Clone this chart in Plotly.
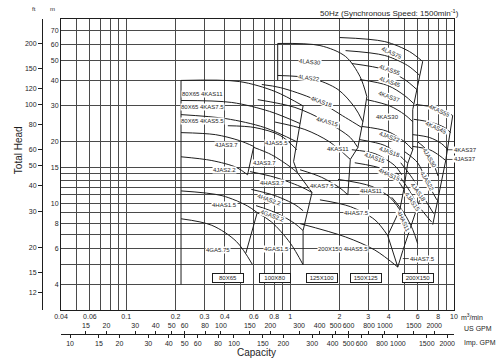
import numpy as np
import plotly.graph_objects as go

# ---------------- axis values ----------------
x_grid = [0.04, 0.05, 0.06, 0.07, 0.08, 0.09, 0.1, 0.2, 0.3, 0.4, 0.5, 0.6, 0.7, 0.8, 0.9,
          1, 2, 3, 4, 5, 6, 7, 8, 9, 10]
x_labeled = [0.04, 0.06, 0.1, 0.2, 0.3, 0.4, 0.6, 0.8, 1, 2, 3, 4, 6, 8, 10]
y_grid = [4, 5, 6, 7, 8, 9, 10, 11, 12, 13, 14, 15, 20, 30, 40, 50, 60, 70]
y_labeled = [4, 6, 8, 10, 15, 20, 30, 40, 50, 60, 70]
ft_ticks = [12, 15, 20, 30, 40, 50, 60, 80, 100, 120, 150, 200]
us_gpm_ticks = [15, 20, 30, 40, 50, 60, 80, 100, 150, 200, 300, 400, 500, 600, 800, 1000, 1500, 2000]
imp_gpm_ticks = [10, 15, 20, 30, 40, 50, 60, 80, 100, 150, 200, 300, 400, 500, 600, 800, 1000, 1500, 2000]
q_range = [0.04, 10]      # m3/min
h_range = [3, 80]         # m

# ---------------- pump curves (capacity m3/min, head m) ----------------
c80_kas11 = [(0.216, 40), (0.49, 39.5), (0.81, 35.3), (1.2, 30)]
c80_kas75 = [(0.216, 31.9), (0.44, 31.2), (0.75, 28.2), (1.15, 24.6)]
c80_kas55 = [(0.216, 27.2), (0.405, 26.0), (0.70, 23.5), (1.10, 20)]
c80_jas37 = [(0.216, 22.2), (0.35, 21.7), (0.49, 20.3), (0.60, 19.0)]
c80_jas22 = [(0.216, 16.9), (0.333, 16.2), (0.47, 15), (0.55, 13.8)]
c80_has15 = [(0.216, 11.5), (0.384, 10.9), (0.55, 9.7), (0.63, 9.0)]
c80_gas075 = [(0.216, 8.4), (0.333, 7.8), (0.47, 6.5), (0.59, 5.0)]

c100_jas55 = [(0.417, 24.0), (0.61, 23.5), (0.87, 21.5), (1.10, 18.3)]
c100_jas37 = [(0.60, 18.8), (0.77, 17.3), (1.0, 15.1), (1.11, 14.1)]
c100_has37 = [(0.57, 14.3), (0.81, 13.4), (1.15, 12.1), (1.36, 11.3)]
c100_has22 = [(0.58, 11.7), (0.81, 10.9), (1.07, 9.85), (1.2, 9.2)]
c100_gas22 = [(0.62, 9.74), (0.84, 8.9), (1.07, 7.95), (1.2, 7.35)]
c100_gas15 = [(0.63, 9.0), (0.77, 8.1), (1.0, 6.4), (1.2, 5.0)]

c125_las30 = [(0.84, 60.7), (1.52, 59.3), (2.18, 52.4), (2.67, 41.8), (2.94, 33.3)]
c125_las22 = [(0.84, 42.3), (1.36, 40.9), (1.96, 36.1), (2.48, 29.5), (2.78, 25.1)]
c125_kas18 = [(0.672, 38.2), (0.87, 36.9), (1.42, 32.2), (2.18, 26.3), (2.74, 23.5)]
c125_kas15 = [(0.635, 32.2), (1.07, 29.5), (1.62, 25.4), (2.33, 21.0), (2.59, 18.75)]
c125_kas11 = [(0.81, 25.0), (1.23, 23.0), (1.74, 20.0), (2.33, 16.4)]
c125_kas75 = [(1.15, 14.6), (1.56, 13.4), (2.01, 11.9), (2.25, 11.0)]

c150_las75 = [(2.01, 64.9), (3.78, 62.0), (5.35, 55.4), (6.44, 49.5)]
c150_las55 = [(2.18, 56.0), (3.78, 53.0), (5.22, 47.3), (6.18, 42.3)]
c150_las45 = [(2.38, 48.4), (3.78, 45.2), (5.0, 40.4), (5.93, 36.1)]
c150_kas37 = [(2.67, 40.4), (3.94, 37.8), (5.0, 33.7), (5.68, 30.8)]
c150_kas30 = [(2.94, 32.2), (4.06, 30.0), (5.0, 27.2), (5.6, 25.1)]
c150_jas22 = [(2.74, 23.8), (3.94, 22.5), (5.0, 20), (5.6, 18.3)]
c150_jas18 = [(2.67, 20.5), (3.78, 19.2), (4.67, 17.1), (5.22, 15.7)]
c150_jas15 = [(2.38, 18.3), (3.29, 17.5), (4.35, 15.3), (4.8, 13.8)]
c150_has15 = [(2.48, 15.8), (3.78, 14.6), (4.54, 12.9), (4.94, 11.7)]
c150_has11 = [(1.96, 13.1), (3.15, 12.1), (4.06, 10.7), (4.67, 9.3)]
c150_has75 = [(1.52, 10.4), (2.33, 9.63), (3.29, 8.3), (3.94, 6.95)]

c200_kas55 = [(5.84, 30.5), (7.63, 29.5), (9.0, 28.2), (9.82, 26.9)]
c200_kas45 = [(5.68, 25.8), (7.3, 24.9), (8.77, 23.5), (9.55, 22.2)]
c200_kas37 = [(5.6, 21.7), (7.1, 21.0), (8.4, 19.6), (9.16, 18.3)]
c200_jas37 = [(5.6, 19.0), (7.1, 18.3), (8.18, 17.1), (8.9, 16.2)]
c200_jas30 = [(6.0, 20.0), (6.8, 18.3), (7.4, 16.0), (8.0, 13.6)]
c200_jas22 = [(5.0, 17.9), (6.0, 15.8), (6.72, 13.1), (7.85, 10.4)]
c200_jas18 = [(4.73, 15.8), (5.6, 13.2), (6.44, 10.9), (7.52, 8.9)]
c200_jas15 = [(4.48, 14.1), (5.22, 11.9), (6.0, 9.85), (7.3, 8.1)]
c200_has11 = [(4.17, 10.7), (4.94, 9.0), (5.6, 7.43), (6.0, 6.35)]
c200_has55 = [(1.15, 7.95), (2.18, 6.84), (3.29, 5.9), (4.54, 4.87)]

# ---------------- range boundaries ----------------
e80_left = [(0.216, 40), (0.216, 4)]
e80_kas = [(1.2, 30), (1.15, 24.6), (1.10, 20), (1.05, 16)]
e80_jas = [(0.60, 19.0), (0.55, 13.8)]
e80_gas = [(0.63, 9.0), (0.537, 5.7)]
e100_jas = [(1.05, 16), (1.11, 14.1), (1.36, 11.3)]
e100_gas = [(1.36, 11.3), (1.2, 7.35), (1.2, 5.0)]
e125_left = [(0.84, 60.7), (0.84, 40)]
e125_right = [(2.94, 33.3), (2.78, 25.1), (2.59, 18.75), (2.33, 16.4), (2.25, 11.0)]
e150_top = [(6.44, 49.5), (5.6, 28.8)]
e150_right = [(5.6, 28.8), (5.6, 18.3), (5.22, 15.7), (4.94, 11.7), (4.67, 9.3), (3.94, 6.95)]
e200_right = [(9.82, 26.9), (8.9, 16.2), (7.42, 7.86)]
e200_low = [(6.18, 10.4), (4.87, 5.86)]
e200_v = [(3.94, 6.95), (4.54, 4.87), (4.87, 5.86)]

curves = [c80_kas11, c80_kas75, c80_kas55, c80_jas37, c80_jas22, c80_has15, c80_gas075,
          c100_jas55, c100_jas37, c100_has37, c100_has22, c100_gas22, c100_gas15,
          c125_las30, c125_las22, c125_kas18, c125_kas15, c125_kas11, c125_kas75,
          c150_las75, c150_las55, c150_las45, c150_kas37, c150_kas30, c150_jas22, c150_jas18,
          c150_jas15, c150_has15, c150_has11, c150_has75,
          c200_kas55, c200_kas45, c200_kas37, c200_jas37, c200_jas30, c200_jas22, c200_jas18,
          c200_jas15, c200_has11, c200_has55]
edges = [e80_left, e80_kas, e80_jas, e80_gas, e100_jas, e100_gas, e125_left, e125_right,
         e150_top, e150_right, e200_right, e200_low, e200_v]

# ---------------- curve labels (text, capacity, head, angle) ----------------
curve_labels = [
    ("80X65 4KAS11", 0.294, 34.5, 0), ("80X65 4KAS7.5", 0.294, 29.8, 0),
    ("80X65 4KAS5.5", 0.294, 25.4, 0), ("4JAS3.7", 0.411, 19.4, 0),
    ("4JAS2.2", 0.40, 14.6, 0), ("4HAS1.5", 0.40, 9.85, 0), ("4GA5.75", 0.362, 5.9, 0),
    ("4JAS5.5", 0.83, 19.8, 0), ("4JAS3.7", 0.70, 15.8, 0), ("4HAS3.7", 0.785, 12.6, 0),
    ("4HAS2.2", 0.75, 10.4, 20), ("4GAS2.2", 0.785, 8.7, 20), ("4GAS1.5", 0.83, 6.0, 0),
    ("4LAS30", 1.33, 49.5, 5), ("4LAS22", 1.30, 41.3, 8), ("4KAS18", 1.56, 31.2, 20),
    ("4KAS15", 1.70, 24.9, 15), ("4KAS11", 1.96, 18.5, 0), ("4KAS7.5", 1.56, 12.1, 0),
    ("4HAS7.5", 2.55, 9.0, 0), ("200X150 4HAS5.5", 2.1, 6.0, 0), ("4HAS11", 3.15, 11.5, 0),
    ("4LAS75", 4.17, 54.8, 25), ("4LAS55", 4.06, 45.2, 20), ("4LAS45", 4.06, 39.1, 20),
    ("4KAS37", 4.06, 33.3, 20), ("4KAS30", 3.94, 26.6, 0), ("4JAS22", 4.06, 21.2, 20),
    ("4JAS18", 4.06, 17.9, 20), ("4JAS15", 3.29, 16.7, 20), ("4HAS15", 4.06, 13.8, 25),
    ("4KAS55", 8.18, 28.2, 25), ("4KAS45", 7.85, 23.5, 25), ("4JAS30", 7.1, 16.7, 60),
    ("4JAS22", 6.82, 12.8, 60), ("4JAS18", 6.0, 11.3, 55), ("4JAS15", 5.6, 10.2, 55),
    ("4HAS11", 4.94, 8.1, 65),
]
leader_labels = [("4KAS37", 9.0, 18.3), ("4JAS37", 9.0, 16.4), ("4HAS7.5", 4.87, 5.36)]
size_boxes = [("80X65", 0.417, 4.32), ("100X80", 0.81, 4.32), ("125X100", 1.56, 4.32),
              ("150X125", 2.9, 4.32), ("200X150", 6.0, 4.32)]

US_PER_M3MIN = 264.172
IMP_PER_M3MIN = 219.969
M_PER_FT = 0.3048

INK = '#1e1e1e'
FONT = 'Liberation Sans, Arial, sans-serif'

fig = go.Figure()
for pts in curves:
    fig.add_trace(go.Scatter(x=[p[0] for p in pts], y=[p[1] for p in pts], mode='lines',
                             line=dict(color=INK, width=1, shape='spline', smoothing=0.9),
                             hoverinfo='skip', showlegend=False))
for pts in edges:
    fig.add_trace(go.Scatter(x=[p[0] for p in pts], y=[p[1] for p in pts], mode='lines',
                             line=dict(color=INK, width=1), hoverinfo='skip', showlegend=False))

# invisible traces so the secondary scales are drawn
fig.add_trace(go.Scatter(x=[1], y=[10 / M_PER_FT], yaxis='y2', mode='markers',
                         marker=dict(opacity=0), hoverinfo='skip', showlegend=False))
fig.add_trace(go.Scatter(x=[US_PER_M3MIN], y=[10], xaxis='x2', mode='markers',
                         marker=dict(opacity=0), hoverinfo='skip', showlegend=False))
fig.add_trace(go.Scatter(x=[IMP_PER_M3MIN], y=[10], xaxis='x3', mode='markers',
                         marker=dict(opacity=0), hoverinfo='skip', showlegend=False))

def fmt(v):
    return ('%g' % v)

for txt, q, h, ang in curve_labels:
    fig.add_annotation(x=np.log10(q), y=np.log10(h), text=txt, showarrow=False, textangle=ang,
                       font=dict(size=6, color=INK, family=FONT), bgcolor='white', borderpad=0)
for txt, q, h in leader_labels:
    fig.add_annotation(x=np.log10(q), y=np.log10(h), text=txt, showarrow=True, arrowhead=0,
                       arrowwidth=0.8, arrowcolor=INK, ax=6, ay=0, xanchor='left',
                       font=dict(size=6, color=INK, family=FONT), bgcolor='white', borderpad=0)
for txt, q, h in size_boxes:
    fig.add_annotation(x=np.log10(q), y=np.log10(h), text=txt, showarrow=False,
                       font=dict(size=6, color=INK, family=FONT), bgcolor='white',
                       bordercolor=INK, borderwidth=1, borderpad=1, width=28)

def paper_text(x, y, text, size, angle=0, xanchor='center'):
    fig.add_annotation(xref='paper', yref='paper', x=x, y=y, text=text, showarrow=False,
                       textangle=angle, xanchor=xanchor, yanchor='middle',
                       font=dict(size=size, color=INK, family=FONT))

paper_text(0.849, 1.018, '50Hz (Synchronous Speed: 1500min<sup>-1</sup>)', 8)
paper_text(0.0094, 1.03, 'ft', 6)
paper_text(0.0519, 1.03, 'm', 6)
paper_text(-0.028, 0.61, 'Total Head', 10, angle=-90)
paper_text(0.535, 0.006, 'Capacity', 10)
paper_text(1.012, 0.113, 'm<sup>3</sup>/min', 7, xanchor='left')
paper_text(1.02, 0.080, 'US GPM', 7, xanchor='left')
paper_text(1.02, 0.035, 'Imp. GPM', 7, xanchor='left')

GRID = '#4a4a4a'
fig.update_layout(
    width=500, height=360,
    margin=dict(l=30, r=46, t=19, b=5, autoexpand=False),
    paper_bgcolor='white', plot_bgcolor='white', showlegend=False,
    font=dict(family=FONT, size=7, color=INK),
    xaxis=dict(type='log', range=[np.log10(q_range[0]), np.log10(q_range[1])],
               domain=[0.0731, 1.0], anchor='y', automargin=False, tickangle=0,
               tickvals=x_grid, ticktext=[fmt(v) if v in x_labeled else '' for v in x_grid],
               showgrid=True, gridcolor=GRID, gridwidth=1, ticks='', showline=True,
               linecolor=INK, linewidth=1, mirror=True, zeroline=False,
               tickfont=dict(size=7, color=INK)),
    yaxis=dict(type='log', range=[np.log10(h_range[0]), np.log10(h_range[1])],
               domain=[0.1339, 1.0], anchor='x', automargin=False,
               tickvals=y_grid, ticktext=[fmt(v) if v in y_labeled else '' for v in y_grid],
               showgrid=True, gridcolor=GRID, gridwidth=1, ticks='', showline=True,
               linecolor=INK, linewidth=1, mirror=True, zeroline=False,
               tickfont=dict(size=7, color=INK)),
    yaxis2=dict(type='log', overlaying='y', anchor='free', position=0.0283, side='left',
                automargin=False,
                range=[np.log10(h_range[0] / M_PER_FT), np.log10(h_range[1] / M_PER_FT)],
                tickvals=ft_ticks, ticktext=[fmt(v) for v in ft_ticks],
                ticks='outside', ticklen=4, tickcolor=INK, showline=True, linecolor=INK,
                linewidth=1, showgrid=False, zeroline=False, tickfont=dict(size=7, color=INK)),
    xaxis2=dict(type='log', overlaying='x', anchor='free', position=0.0625, side='top',
                automargin=False, tickangle=0,
                range=[np.log10(q_range[0] * US_PER_M3MIN), np.log10(q_range[1] * US_PER_M3MIN)],
                tickvals=us_gpm_ticks, ticktext=[fmt(v) for v in us_gpm_ticks],
                ticks='outside', ticklen=3, tickcolor=INK, showline=True, linecolor=INK,
                linewidth=1, showgrid=False, zeroline=False, tickfont=dict(size=7, color=INK)),
    xaxis3=dict(type='log', overlaying='x', anchor='free', position=0.0625, side='bottom',
                automargin=False, tickangle=0,
                range=[np.log10(q_range[0] * IMP_PER_M3MIN), np.log10(q_range[1] * IMP_PER_M3MIN)],
                tickvals=imp_gpm_ticks, ticktext=[fmt(v) for v in imp_gpm_ticks],
                ticks='outside', ticklen=3, tickcolor=INK, showline=False,
                showgrid=False, zeroline=False, tickfont=dict(size=7, color=INK)),
)

fig.write_html("out.html", config={'displayModeBar': False},
               post_script="document.body.style.margin='0';")
